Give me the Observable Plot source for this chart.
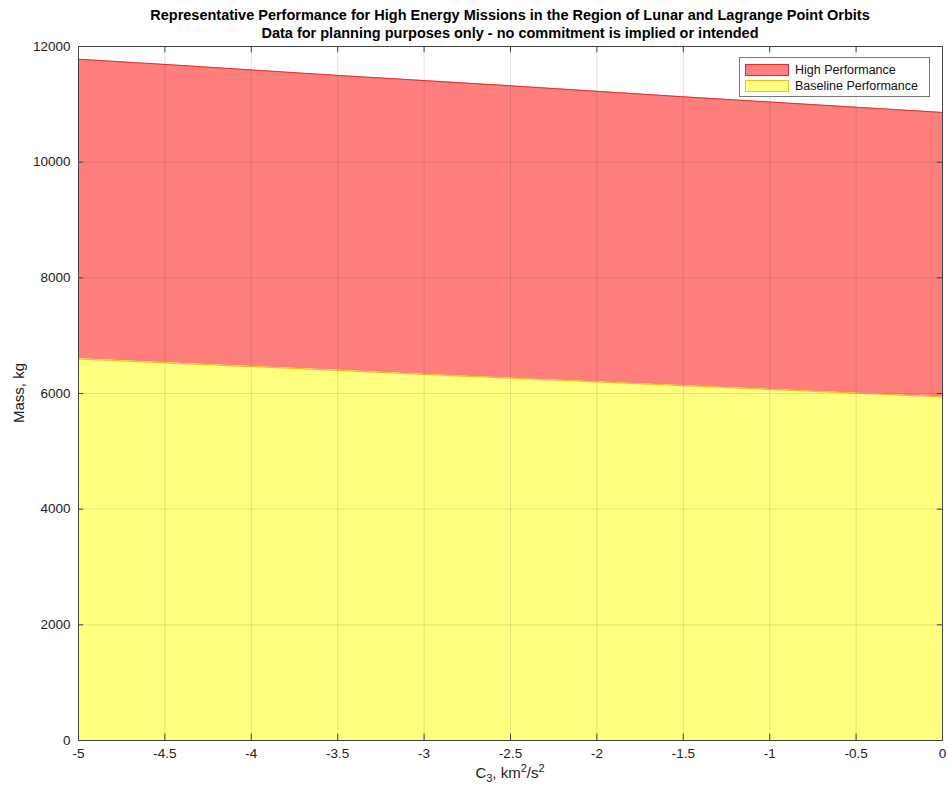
<!DOCTYPE html>
<html>
<head>
<meta charset="utf-8">
<script src="https://cdn.jsdelivr.net/npm/d3@7"></script>
<script src="https://cdn.jsdelivr.net/npm/@observablehq/plot@0.6"></script>
<style>
  body { margin: 0; background: #fff; font-family: "Liberation Sans", Arial, sans-serif; }
  #wrap { position: relative; width: 948px; height: 798px; }
  #title { position: absolute; left: 78px; width: 864px; top: 6px; text-align: center; font-weight: bold; font-size: 14.5px; line-height: 18px; color: #000; z-index: 2; }
  #chart { position: absolute; left: 0; top: 30px; }
  #legend { position: absolute; left: 739px; top: 57px; width: 189px; height: 38px; border: 1px solid #777; background: #fff; font-size: 12.5px; color: #111; }
  .row { position: absolute; left: 5px; height: 13px; display: flex; align-items: center; }
  .sw { width: 44px; height: 12px; margin-right: 6px; box-sizing: border-box; }
  #xlabel { position: absolute; top: 762px; left: 78px; width: 864px; text-align: center; font-size: 15px; color: #222; }
  #ylabel { position: absolute; left: 18px; top: 393px; transform: translate(-50%,-50%) rotate(-90deg); font-size: 15px; color: #222; white-space: nowrap; }
</style>
</head>
<body>
<div id="wrap">
  <div id="chart"></div>
  <div id="title">Representative Performance for High Energy Missions in the Region of Lunar and Lagrange Point Orbits<br>Data for planning purposes only - no commitment is implied or intended</div>
  <div id="legend"></div>
  <div id="xlabel">C<sub style="font-size:11px">3</sub>, km<sup style="font-size:11px">2</sup>/s<sup style="font-size:11px">2</sup></div>
  <div id="ylabel">Mass, kg</div>
</div>
<script>
const c3 = [-5, -4.5, -4, -3.5, -3, -2.5, -2, -1.5, -1, -0.5, 0];
const highPerf = [11780, 11690, 11595, 11500, 11410, 11320, 11225, 11130, 11040, 10950, 10860];
const basePerf = [6600, 6530, 6465, 6400, 6330, 6265, 6200, 6135, 6070, 6005, 5940];
const xTicks = [-5, -4.5, -4, -3.5, -3, -2.5, -2, -1.5, -1, -0.5, 0];
const yTicks = [0, 2000, 4000, 6000, 8000, 10000, 12000];
const seriesNames = ["High Performance", "Baseline Performance"];
const fillColors = ["#ff7f7f", "#ffff80"];
const edgeColors = ["#e03030", "#f0c020"];

const rows = c3.map((x, i) => ({x, high: highPerf[i], base: basePerf[i]}));

const chart = Plot.plot({
  width: 948,
  height: 768,
  marginLeft: 78,
  marginRight: 6,
  marginTop: 16,
  marginBottom: 58,
  style: { fontFamily: "Liberation Sans, Arial, sans-serif", fontSize: "13.5px", color: "#222", background: "transparent" },
  x: { domain: [-5, 0], ticks: xTicks, tickFormat: d => String(d), label: null },
  y: { domain: [0, 12000], ticks: yTicks, tickFormat: d => String(d), label: null },
  marks: [
    Plot.areaY(rows, {x: "x", y1: "base", y2: "high", fill: fillColors[0]}),
    Plot.areaY(rows, {x: "x", y1: 0, y2: "base", fill: fillColors[1]}),
    Plot.line(rows, {x: "x", y: "high", stroke: edgeColors[0], strokeWidth: 1}),
    Plot.line(rows, {x: "x", y: "base", stroke: edgeColors[1], strokeWidth: 1.2}),
    Plot.ruleX(xTicks, {stroke: "#262626", strokeOpacity: 0.13}),
    Plot.ruleY(yTicks, {stroke: "#262626", strokeOpacity: 0.13}),
    Plot.ruleX(xTicks, {y1: 0, y2: 110, stroke: "#444"}),
    Plot.ruleX(xTicks, {y1: 11890, y2: 12000, stroke: "#444"}),
    Plot.ruleY(yTicks, {x1: -5, x2: -4.97, stroke: "#444"}),
    Plot.ruleY(yTicks, {x1: -0.03, x2: 0, stroke: "#444"}),
    Plot.axisX({ticks: xTicks, tickSize: 0, tickPadding: 8, tickFormat: d => String(d), label: null, fontSize: 13.5}),
    Plot.axisY({ticks: yTicks, tickSize: 0, tickPadding: 8, tickFormat: d => String(d), label: null, fontSize: 13.5}),
    Plot.frame({stroke: "#444"})
  ]
});
document.getElementById("chart").appendChild(chart);

const leg = document.getElementById("legend");
seriesNames.forEach((name, i) => {
  const r = document.createElement("div");
  r.className = "row";
  r.style.top = (5 + i * 16) + "px";
  const sw = document.createElement("div");
  sw.className = "sw";
  sw.style.background = fillColors[i];
  sw.style.border = "1px solid " + edgeColors[i];
  r.appendChild(sw);
  const t = document.createElement("span");
  t.textContent = name;
  r.appendChild(t);
  leg.appendChild(r);
});
</script>
</body>
</html>
